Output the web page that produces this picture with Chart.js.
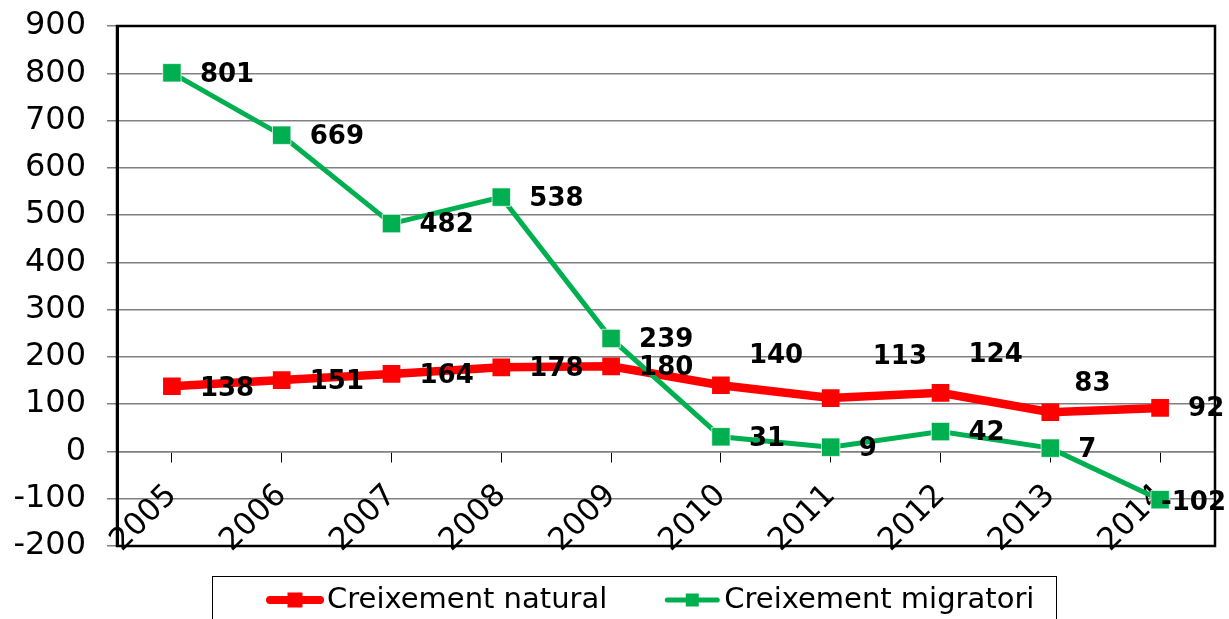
<!DOCTYPE html>
<html>
<head>
<meta charset="utf-8">
<script src="https://cdn.jsdelivr.net/npm/chart.js@4/dist/chart.umd.min.js"></script>
<style>
  html, body { margin: 0; padding: 0; background: #fff; }
</style>
</head>
<body>
<canvas id="chart" width="1229" height="619"></canvas>
<script>
  // Dades
  const years = ['2005', '2006', '2007', '2008', '2009', '2010', '2011', '2012', '2013', '2014'];
  const natural = [138, 151, 164, 178, 180, 140, 113, 124, 83, 92];
  const migratori = [801, 669, 482, 538, 239, 31, 9, 42, 7, -102];
  const yMin = -200;
  const yMax = 900;
  const yStep = 100;

  const FONT = '"DejaVu Sans", Verdana, sans-serif';

  // desplaçament manual d'algunes etiquetes (com a l'original)
  const labelShift = [
    [[0, 1], [0, 0], [0, 0], [0, 0], [0, 0], [0, -31], [14, -43], [0, -40], [-4, -30], [0, -1]],
    [[0, 0], [0, 0], [0, 0], [0, 0], [0, 0], [0, 0], [0, 0], [0, 0], [0, 0], [0, 2]]
  ];

  // vora de l'àrea del gràfic
  const plotBorder = {
    id: 'plotBorder',
    beforeDatasetsDraw(chart) {
      const { ctx, chartArea: a } = chart;
      ctx.save();
      ctx.strokeStyle = '#000';
      ctx.lineWidth = 2.5;
      ctx.strokeRect(a.left, a.top, a.right - a.left, a.bottom - a.top);
      ctx.restore();
    }
  };

  // etiquetes de valor
  const valueLabels = {
    id: 'valueLabels',
    afterDatasetsDraw(chart) {
      const ctx = chart.ctx;
      ctx.save();
      ctx.font = 'bold 26px ' + FONT;
      ctx.fillStyle = '#000';
      ctx.textBaseline = 'middle';
      ctx.textAlign = 'left';
      chart.data.datasets.forEach((ds, i) => {
        const meta = chart.getDatasetMeta(i);
        meta.data.forEach((pt, j) => {
          const txt = String(ds.data[j]);
          const w = ctx.measureText(txt).width;
          let x = pt.x + 28 + labelShift[i][j][0];
          x = Math.min(x, chart.width - w - 3);
          ctx.fillText(txt, x, pt.y + 2 + labelShift[i][j][1]);
        });
      });
      ctx.restore();
    }
  };

  // llegenda amb caixa (estil Excel)
  const legendBox = {
    id: 'legendBox',
    afterDraw(chart) {
      const { ctx, chartArea: a } = chart;
      const top = a.bottom + 30;
      const left = a.left + 95;
      const right = a.left + 939;
      ctx.save();
      ctx.strokeStyle = '#000';
      ctx.lineWidth = 1;
      ctx.strokeRect(left + 0.5, top + 0.5, right - left, 100);
      const cy = top + 24;
      ctx.font = '29px ' + FONT;
      ctx.textBaseline = 'middle';
      ctx.textAlign = 'left';
      let x = left + 55;
      chart.data.datasets.forEach(ds => {
        ctx.strokeStyle = ds.borderColor;
        ctx.lineWidth = ds.borderWidth > 6 ? 8 : 5;
        ctx.lineCap = 'round';
        ctx.beginPath();
        ctx.moveTo(x + 3, cy);
        ctx.lineTo(x + 53, cy);
        ctx.stroke();
        const s = ds.borderWidth > 6 ? 15 : 13;
        ctx.fillStyle = ds.pointBackgroundColor;
        ctx.fillRect(x + 28 - s / 2, cy - s / 2, s, s);
        ctx.fillStyle = '#000';
        ctx.fillText(ds.label, x + 60, cy);
        x += 60 + ctx.measureText(ds.label).width + 57;
      });
      ctx.restore();
    }
  };

  new Chart(document.getElementById('chart'), {
    type: 'line',
    data: {
      labels: years,
      datasets: [
        {
          label: 'Creixement natural',
          data: natural,
          borderColor: '#ff0000',
          backgroundColor: '#ff0000',
          pointBackgroundColor: '#ff0000',
          pointBorderColor: '#ff0000',
          borderWidth: 8.5,
          pointStyle: 'rect',
          pointRadius: 12.5,
          pointBorderWidth: 0,
          tension: 0,
          order: 1
        },
        {
          label: 'Creixement migratori',
          data: migratori,
          borderColor: '#00b050',
          backgroundColor: '#00b050',
          pointBackgroundColor: '#00b050',
          pointBorderColor: 'rgba(255,255,255,0.7)',
          borderWidth: 5,
          pointStyle: 'rect',
          pointRadius: 13,
          pointBorderWidth: 1,
          tension: 0,
          order: 0
        }
      ]
    },
    options: {
      responsive: false,
      animation: false,
      devicePixelRatio: 1,
      layout: { padding: { left: 0, top: 26, right: 14, bottom: 73 } },
      plugins: {
        legend: { display: false },
        tooltip: { enabled: false }
      },
      scales: {
        x: {
          position: { y: 0 },
          offset: true,
          grid: { drawOnChartArea: false, drawTicks: true, tickLength: 10, color: '#000', lineWidth: 1 },
          border: { color: '#808080', width: 1.5 },
          ticks: {
            color: '#000',
            font: { family: FONT, size: 31 },
            minRotation: 45,
            maxRotation: 45,
            autoSkip: false,
            padding: 16,
            labelOffset: 0
          }
        },
        y: {
          min: yMin,
          max: yMax,
          afterFit(scale) {
            scale.width = 117;
            scale.paddingTop = 0;
            scale.paddingBottom = 0;
          },
          grid: { color: '#808080', lineWidth: 1.5, tickLength: 10 },
          border: { color: '#000', width: 3 },
          ticks: {
            stepSize: yStep,
            color: '#000',
            padding: 21,
            font: { family: FONT, size: 32 }
          }
        }
      }
    },
    plugins: [plotBorder, valueLabels, legendBox]
  });
</script>
</body>
</html>
